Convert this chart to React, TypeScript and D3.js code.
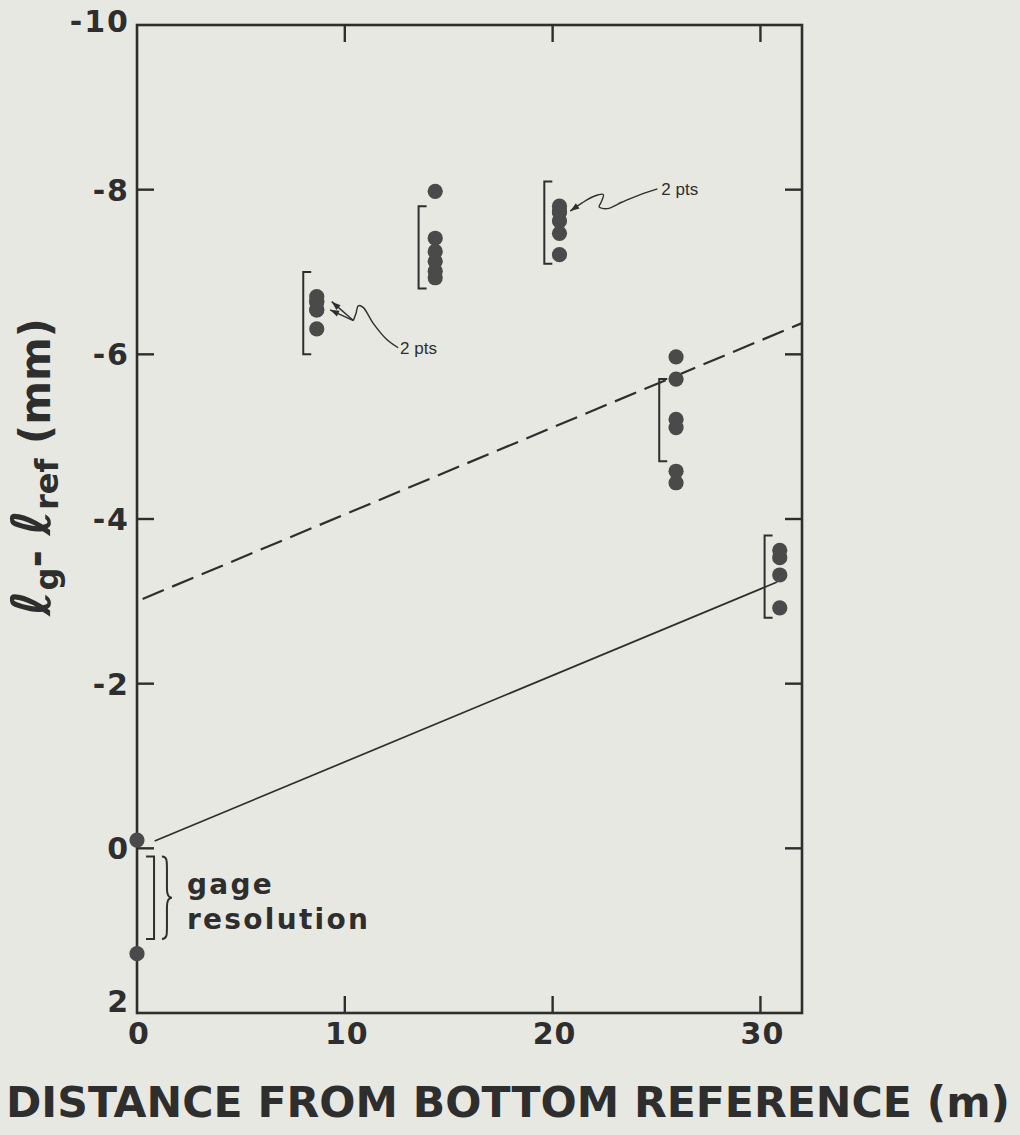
import React from 'react';
import * as d3 from 'd3';

const W = 1020;
const H = 1135;

// axis ticks
const xTicks = [0, 10, 20, 30];
const xTickLabels = ['0', '10', '20', '30'];
const yTicks = [-10, -8, -6, -4, -2, 0, 2];
const yTickLabels = ['-10', '-8', '-6', '-4', '-2', '0', '2'];

// measurement stations (distance from bottom reference, m)
const stationX = [0, 8.65, 14.35, 20.33, 25.94, 30.93];
// measured lg - lref (mm) at each station
const stationValues = [
  [-0.1, 1.28],
  [-6.7, -6.64, -6.64, -6.54, -6.54, -6.31],
  [-7.98, -7.41, -7.25, -7.13, -7.01, -6.93],
  [-7.8, -7.73, -7.73, -7.62, -7.47, -7.21],
  [-5.97, -5.7, -5.21, -5.11, -4.58, -4.44],
  [-3.62, -3.53, -3.32, -2.92],
];

// 1 mm resolution brackets
const bracketX = [0.82, 8.0, 13.55, 19.6, 25.13, 30.2];
const bracketTop = [0.1, -7.0, -7.8, -8.1, -5.7, -3.8];
const bracketBottom = [1.1, -6.0, -6.8, -7.1, -4.7, -2.8];
const bracketOpensLeft = [true, false, false, false, false, false];

// straight lines
const solidSlope = -0.105;
const solidIntercept = 0;
const solidRange = [0.85, 30.8];
const dashedSlope = -0.1056;
const dashedIntercept = -3.0;
const dashedRange = [0.27, 32];

// annotations ("2 pts" leaders), in data units
const leader1TipA: [number, number][] = [[9.37, -6.64], [10.41, -6.41]];
const leader1TipB: [number, number][] = [[9.29, -6.54], [10.41, -6.41]];
const leader1Tail: [number, number][] = [
  [10.41, -6.41], [10.54, -6.5], [10.65, -6.59], [10.88, -6.57],
  [11.36, -6.38], [12.02, -6.18], [12.57, -6.08],
];
const leader1Text: [number, number] = [12.66, -6.0];
const leader3: [number, number][] = [
  [20.85, -7.74], [21.42, -7.84], [22.0, -7.92], [22.44, -7.94],
  [22.34, -7.85], [22.24, -7.79], [22.63, -7.77], [23.35, -7.85],
  [24.22, -7.94], [25.04, -8.01],
];
const leader3Text: [number, number] = [25.23, -7.94];

const gageText = ['gage', 'resolution'];

const INK = '#2e2e2e';
const DOT = '#4a4a4a';
const BG = '#e8e8e2';

export default function App() {
  const x = d3.scaleLinear().domain([0, 32]).range([137, 802]);
  const y = d3.scaleLinear().domain([-10, 2]).range([25, 1013]);
  const [x0, x1] = x.range();
  const [y0, y1] = y.range();
  const tickLen = 17;

  const curve = d3
    .line<[number, number]>()
    .x((d) => x(d[0]))
    .y((d) => y(d[1]))
    .curve(d3.curveCatmullRom.alpha(0.5));
  const straight = d3
    .line<[number, number]>()
    .x((d) => x(d[0]))
    .y((d) => y(d[1]));

  const arrow = (tip: [number, number], from: [number, number]) => {
    const tx = x(tip[0]);
    const ty = y(tip[1]);
    const fx = x(from[0]);
    const fy = y(from[1]);
    const a = Math.atan2(ty - fy, tx - fx);
    const L = 9;
    const hw = 3.2;
    const bx = tx - L * Math.cos(a);
    const by = ty - L * Math.sin(a);
    const px = -Math.sin(a) * hw;
    const py = Math.cos(a) * hw;
    return `M${tx},${ty}L${bx + px},${by + py}L${bx - px},${by - py}Z`;
  };

  const lineSeg = (slope: number, intercept: number, r: number[]) =>
    straight([
      [r[0], intercept + slope * r[0]],
      [r[1], intercept + slope * r[1]],
    ]) as string;

  // curly brace beside the gage resolution bracket
  const bx = x(1.2);
  const bt = y(bracketTop[0]);
  const bb = y(bracketBottom[0]);
  const bm = (bt + bb) / 2;
  const bracePath = `M${bx},${bt} C${bx + 5},${bt} ${bx + 5},${bt + 4} ${bx + 5},${bt + 12} L${bx + 5},${bm - 9} C${bx + 5},${bm - 3} ${bx + 7},${bm} ${bx + 10},${bm} C${bx + 7},${bm} ${bx + 5},${bm + 3} ${bx + 5},${bm + 9} L${bx + 5},${bb - 12} C${bx + 5},${bb - 4} ${bx + 5},${bb} ${bx},${bb}`;

  const tickFont = 'DejaVu Sans, Liberation Sans, sans-serif';

  return (
    <svg
      width={W}
      height={H}
      style={{ position: 'absolute', left: 0, top: 0, display: 'block' }}
    >
      <rect x={0} y={0} width={W} height={H} fill={BG} />

      {/* frame */}
      <rect x={x0} y={y0} width={x1 - x0} height={y1 - y0} fill="none" stroke={INK} strokeWidth={2.6} />

      {/* x ticks bottom and top */}
      {xTicks.filter((t) => t > 0).map((t) => (
        <g key={'xt' + t}>
          <line x1={x(t)} x2={x(t)} y1={y1} y2={y1 - tickLen} stroke={INK} strokeWidth={2.4} />
          <line x1={x(t)} x2={x(t)} y1={y0} y2={y0 + tickLen} stroke={INK} strokeWidth={2.4} />
        </g>
      ))}
      {/* y ticks left and right */}
      {yTicks.filter((t) => t > -10 && t < 2).map((t) => (
        <g key={'yt' + t}>
          <line x1={x0} x2={x0 + tickLen} y1={y(t)} y2={y(t)} stroke={INK} strokeWidth={2.4} />
          <line x1={x1} x2={x1 - tickLen} y1={y(t)} y2={y(t)} stroke={INK} strokeWidth={2.4} />
        </g>
      ))}

      {/* x tick labels */}
      {xTicks.map((t, i) => (
        <text
          key={'xl' + t}
          x={x(t) + 2}
          y={1044}
          textAnchor="middle"
          fontFamily={tickFont}
          fontWeight="bold"
          fontSize={30}
          letterSpacing={1}
          fill={INK}
        >
          {xTickLabels[i]}
        </text>
      ))}
      {/* y tick labels */}
      {yTicks.map((t, i) => {
        let by = y(t) + 11;
        if (t === -10) by = y(t) + 7;
        if (t === 2) by = y(t) - 1;
        return (
          <text
            key={'yl' + t}
            x={130}
            y={by}
            textAnchor="end"
            fontFamily={tickFont}
            fontWeight="bold"
            fontSize={30}
            fill={INK}
            letterSpacing={2}
          >
            {yTickLabels[i]}
          </text>
        );
      })}

      {/* fit lines */}
      <path d={lineSeg(dashedSlope, dashedIntercept, dashedRange)} fill="none" stroke={INK} strokeWidth={2.2} strokeDasharray="23 9" />
      <path d={lineSeg(solidSlope, solidIntercept, solidRange)} fill="none" stroke={INK} strokeWidth={1.7} />

      {/* brackets */}
      {bracketX.map((bxv, i) => {
        const xx = x(bxv);
        const s = bracketOpensLeft[i] ? -8 : 8;
        const ya = y(bracketTop[i]);
        const yb = y(bracketBottom[i]);
        return (
          <path
            key={'br' + i}
            d={`M${xx + s},${ya}L${xx},${ya}L${xx},${yb}L${xx + s},${yb}`}
            fill="none"
            stroke={INK}
            strokeWidth={2}
          />
        );
      })}
      <path d={bracePath} fill="none" stroke={INK} strokeWidth={2} />

      {/* points */}
      {stationX.map((sx, i) =>
        stationValues[i].map((v, j) => (
          <circle key={`p${i}-${j}`} cx={x(sx)} cy={y(v)} r={7.6} fill={DOT} />
        ))
      )}

      {/* gage resolution text */}
      {gageText.map((t, i) => (
        <text
          key={'g' + t}
          x={x(2.4)}
          y={y(i === 0 ? 0.56 : 0.98)}
          fontFamily={tickFont}
          fontWeight="bold"
          fontSize={28}
          letterSpacing={2.3}
          fill={INK}
        >
          {t}
        </text>
      ))}

      {/* leaders */}
      <path d={straight(leader1TipA) as string} fill="none" stroke={INK} strokeWidth={1.4} />
      <path d={straight(leader1TipB) as string} fill="none" stroke={INK} strokeWidth={1.4} />
      <path d={curve(leader1Tail) as string} fill="none" stroke={INK} strokeWidth={1.4} />
      <path d={arrow(leader1TipA[0], leader1TipA[1])} fill={INK} />
      <path d={arrow(leader1TipB[0], leader1TipB[1])} fill={INK} />
      <text x={x(leader1Text[0])} y={y(leader1Text[1])} fontFamily="Liberation Sans, Arial, sans-serif" fontSize={17} fill={INK}>
        2 pts
      </text>
      <path d={curve(leader3) as string} fill="none" stroke={INK} strokeWidth={1.4} />
      <path d={arrow(leader3[0], leader3[1])} fill={INK} />
      <text x={x(leader3Text[0])} y={y(leader3Text[1])} fontFamily="Liberation Sans, Arial, sans-serif" fontSize={17} fill={INK}>
        2 pts
      </text>

      {/* y axis label */}
      <text
        transform="translate(50,467) rotate(-90)"
        textAnchor="middle"
        fontFamily={tickFont}
        fontWeight="bold"
        fontSize={42}
        fill={INK}
      >
        <tspan fontStyle="italic" fontSize={54}>ℓ</tspan>
        <tspan fontSize={32} dy={8}>g</tspan>
        <tspan dy={-8}>- </tspan>
        <tspan fontStyle="italic" fontSize={54}>ℓ</tspan>
        <tspan fontSize={32} dy={8}>ref</tspan>
        <tspan dy={-8}> (mm)</tspan>
      </text>

      {/* x axis label */}
      <text
        x={6}
        y={1117}
        fontFamily={tickFont}
        fontWeight="bold"
        fontSize={42}
        fill={INK}
        textLength={1004}
        lengthAdjust="spacingAndGlyphs"
      >
        DISTANCE FROM BOTTOM REFERENCE (m)
      </text>
    </svg>
  );
}
